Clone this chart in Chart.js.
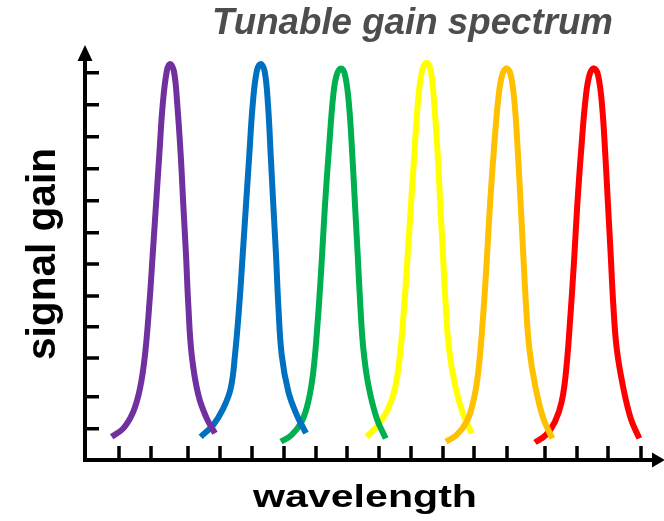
<!DOCTYPE html>
<html>
<head>
<meta charset="utf-8">
<title>Tunable gain spectrum</title>
<script src="https://cdn.jsdelivr.net/npm/chart.js@4/dist/chart.umd.min.js"></script>
<style>
  html, body { margin: 0; padding: 0; background: #fff; }
</style>
</head>
<body>
<canvas id="gainChart" width="664" height="521"></canvas>
<script>
// Gain curves for each tuned channel: wavelength (arb. units) vs. gain (% of peak scale)
const purpleWl   = [2.67, 3.83, 4.83, 5.5, 6.0, 6.43, 6.77, 7.1, 7.43, 7.77, 8.17, 8.5, 8.9, 9.23, 9.57, 9.83, 10.1, 10.33, 10.67, 11.33, 12.17, 13.0];
const purpleGain = [5.8, 7.9, 12.1, 17.9, 26.3, 38.8, 51.3, 63.8, 76.3, 88.8, 97.1, 99.0, 97.1, 88.8, 76.3, 63.8, 51.3, 38.8, 26.3, 16.3, 10.4, 6.7];

const blueWl   = [11.57, 12.83, 13.83, 14.57, 15.0, 15.43, 15.77, 16.1, 16.43, 16.77, 17.17, 17.57, 17.97, 18.3, 18.57, 18.83, 19.1, 19.33, 19.67, 20.33, 21.17, 22.1];
const blueGain = [5.8, 8.8, 12.9, 17.9, 26.3, 38.8, 51.3, 63.8, 76.3, 88.8, 97.1, 99.0, 97.1, 88.8, 76.3, 63.8, 51.3, 38.8, 26.3, 17.1, 11.3, 6.7];

const greenWl   = [19.6, 20.67, 21.67, 22.33, 22.83, 23.27, 23.67, 24.0, 24.4, 24.83, 25.17, 25.6, 26.0, 26.4, 26.73, 27.0, 27.27, 27.53, 27.83, 28.33, 29.17, 30.07];
const greenGain = [4.6, 6.3, 9.6, 14.6, 22.1, 34.6, 49.6, 63.8, 77.9, 91.3, 96.3, 97.9, 96.3, 88.8, 76.3, 63.8, 51.3, 38.8, 27.9, 18.8, 10.4, 5.4];

const yellowWl   = [28.17, 29.33, 30.33, 31.0, 31.5, 31.93, 32.27, 32.6, 32.93, 33.33, 33.73, 34.17, 34.57, 34.93, 35.27, 35.53, 35.8, 36.07, 36.4, 37.0, 37.83, 38.67];
const yellowGain = [5.8, 8.8, 12.9, 17.9, 26.3, 38.8, 51.3, 63.8, 76.3, 90.4, 97.5, 99.3, 97.5, 88.8, 76.3, 63.8, 51.3, 38.8, 27.9, 18.8, 11.3, 6.7];

const orangeWl   = [36.1, 37.17, 38.17, 38.83, 39.33, 39.77, 40.17, 40.5, 40.9, 41.37, 41.77, 42.17, 42.57, 42.97, 43.3, 43.57, 43.83, 44.1, 44.43, 45.0, 45.83, 46.73];
const orangeGain = [4.6, 6.3, 9.6, 14.6, 22.1, 34.6, 49.6, 63.8, 77.9, 91.3, 96.7, 97.9, 96.3, 88.8, 76.3, 63.8, 51.3, 38.8, 27.9, 18.8, 10.4, 5.4];

const redWl   = [45.0, 46.1, 47.0, 47.67, 48.1, 48.5, 48.9, 49.23, 49.63, 50.1, 50.5, 50.9, 51.3, 51.7, 52.03, 52.3, 52.57, 52.83, 53.17, 53.77, 54.57, 55.43];
const redGain = [4.4, 6.3, 9.6, 14.6, 22.1, 34.6, 49.6, 63.8, 77.9, 91.3, 96.7, 97.9, 96.3, 88.8, 76.3, 63.8, 51.3, 38.8, 27.9, 18.8, 10.4, 5.4];

// Tick marks along each axis (unlabelled)
const xTickVals = [3.4, 6.6, 10.3, 13.5, 16.7, 19.9, 23.1, 26.2, 29.4, 32.6, 35.8, 38.9, 42.2, 46.0, 49.2, 52.3, 55.6];
const yTickVals = [96.8, 88.8, 80.8, 72.8, 64.8, 56.8, 49, 41, 33.3, 25.5, 15.8, 7.8];

const FONT = '"Liberation Sans", Arial, Helvetica, sans-serif';

function toPoints(wl, gain) {
	return wl.map((x, i) => ({ x: x, y: gain[i] }));
}

function curve(label, wl, gain, color, order) {
	return {
		label: label,
		data: toPoints(wl, gain),
		borderColor: color,
		borderWidth: 6,
		pointRadius: 0,
		fill: false,
		tension: 0.4,
		order: order
	};
}

// Draws text squeezed/stretched to a given advance width
function fittedText(ctx, text, font, color, x, y, width, angle) {
	ctx.save();
	ctx.font = font;
	ctx.fillStyle = color;
	ctx.textBaseline = 'alphabetic';
	ctx.textAlign = 'left';
	ctx.translate(x, y);
	ctx.rotate(angle || 0);
	ctx.scale(width / ctx.measureText(text).width, 1);
	ctx.fillText(text, 0, 0);
	ctx.restore();
}

// Arrow-headed axes with inward tick marks, plus the titles
const arrowAxes = {
	id: 'arrowAxes',
	beforeDatasetsDraw(chart) {
		const ctx = chart.ctx;
		const area = chart.chartArea;
		const xs = chart.scales.x;
		const ys = chart.scales.y;
		ctx.save();
		ctx.strokeStyle = '#000';
		ctx.fillStyle = '#000';
		ctx.lineWidth = 4;
		ctx.lineCap = 'butt';

		// axis lines
		ctx.beginPath();
		ctx.moveTo(area.left, area.top);
		ctx.lineTo(area.left, area.bottom + 2);
		ctx.moveTo(area.left - 2, area.bottom);
		ctx.lineTo(area.right, area.bottom);
		ctx.stroke();

		// tick marks
		ctx.lineWidth = 3.5;
		ctx.beginPath();
		yTickVals.forEach(v => {
			const py = ys.getPixelForValue(v);
			ctx.moveTo(area.left, py);
			ctx.lineTo(area.left + 14, py);
		});
		xTickVals.forEach(v => {
			const px = xs.getPixelForValue(v);
			ctx.moveTo(px, area.bottom);
			ctx.lineTo(px, area.bottom - 14);
		});
		ctx.stroke();

		// arrow heads
		ctx.beginPath();
		ctx.moveTo(area.left, area.top - 15);
		ctx.lineTo(area.left - 7.5, area.top + 1);
		ctx.lineTo(area.left + 7.5, area.top + 1);
		ctx.closePath();
		ctx.moveTo(area.right + 12, area.bottom);
		ctx.lineTo(area.right - 1, area.bottom - 7.5);
		ctx.lineTo(area.right - 1, area.bottom + 7.5);
		ctx.closePath();
		ctx.fill();
		ctx.restore();

		fittedText(ctx, 'Tunable gain spectrum', 'italic bold 36px ' + FONT, '#4d4d4d', 212, 34, 401);
		fittedText(ctx, 'wavelength', 'bold 31px ' + FONT, '#000', 253, 507, 224);
		fittedText(ctx, 'signal gain', 'bold 41px ' + FONT, '#000', 55, 360, 212, -Math.PI / 2);
	}
};

const ctx = document.getElementById('gainChart').getContext('2d');

new Chart(ctx, {
	type: 'line',
	data: {
		datasets: [
			curve('Channel 1', purpleWl, purpleGain, '#7030A0', 0),
			curve('Channel 2', blueWl, blueGain, '#0070C0', 1),
			curve('Channel 3', greenWl, greenGain, '#00B050', 2),
			curve('Channel 4', yellowWl, yellowGain, '#FFFF00', 4),
			curve('Channel 5', orangeWl, orangeGain, '#FFC000', 3),
			curve('Channel 6', redWl, redGain, '#FF0000', 5)
		]
	},
	options: {
		responsive: false,
		animation: false,
		devicePixelRatio: 1,
		layout: {
			padding: { left: 85, right: 11, top: 60, bottom: 61 }
		},
		scales: {
			x: { type: 'linear', min: 0, max: 56.8, display: false },
			y: { type: 'linear', min: 0, max: 100, display: false }
		},
		plugins: {
			legend: { display: false },
			tooltip: { enabled: false }
		}
	},
	plugins: [arrowAxes]
});
</script>
</body>
</html>
